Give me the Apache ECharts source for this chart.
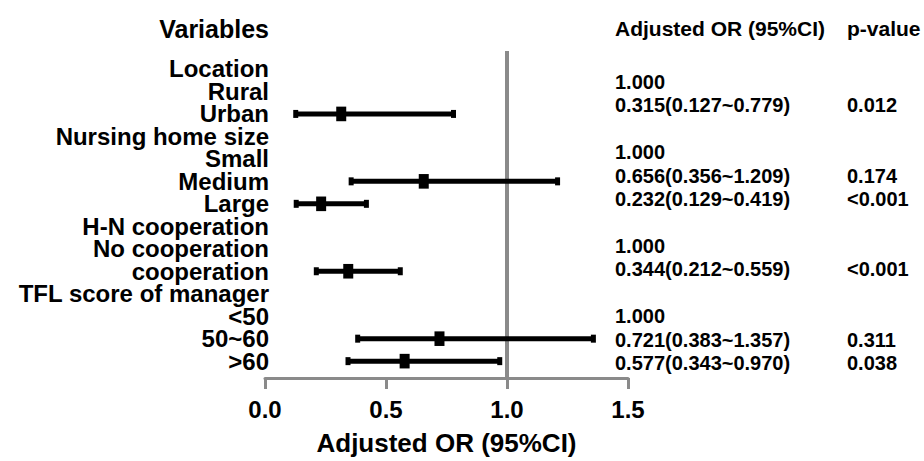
<!DOCTYPE html>
<html>
<head>
<meta charset="utf-8">
<script src="https://cdn.jsdelivr.net/npm/echarts@6/dist/echarts.min.js"></script>
<style>html,body{margin:0;padding:0;background:#fff;}#c{width:924px;height:461px;}</style>
</head>
<body>
<div id="c"></div>
<script>
// ---- data ----
var rowLabels = ['Location','Rural','Urban','Nursing home size','Small','Medium','Large',
  'H-N cooperation','No cooperation','cooperation','TFL score of manager','<50','50~60','>60'];
var orText = ['', '1.000', '0.315(0.127~0.779)', '', '1.000', '0.656(0.356~1.209)', '0.232(0.129~0.419)',
  '', '1.000', '0.344(0.212~0.559)', '', '1.000', '0.721(0.383~1.357)', '0.577(0.343~0.970)'];
var pText = ['', '', '0.012', '', '', '0.174', '<0.001', '', '', '<0.001', '', '', '0.311', '0.038'];
var estRows = [2, 5, 6, 9, 12, 13];
var orVals = [0.315, 0.656, 0.232, 0.344, 0.721, 0.577];
var loVals = [0.127, 0.356, 0.129, 0.212, 0.383, 0.343];
var hiVals = [0.779, 1.209, 0.419, 0.559, 1.357, 0.970];
var xTicks = [0, 0.5, 1.0, 1.5];
var refValue = 1.0;
var headers = {variables: 'Variables', or: 'Adjusted OR (95%CI)', p: 'p-value'};
var xAxisName = 'Adjusted OR (95%CI)';

// ---- build ----
var FONT = '"Liberation Sans", Arial, Helvetica, sans-serif';
var GRAY = '#8a8a8a';
var Y_MIN = -0.8, Y_MAX = 13.75;
var chart = echarts.init(document.getElementById('c'), null, {renderer: 'svg'});

var labelData = rowLabels.map(function (t, i) { return [0, i]; });
var estData = estRows.map(function (r, i) { return [orVals[i], r, loVals[i], hiVals[i]]; });
var orData = [], pData = [];
orText.forEach(function (t, i) { if (t) orData.push([0, i]); });
pText.forEach(function (t, i) { if (t) pData.push([1, i]); });

function textLabel(arr, pos, size, lh, offset) {
  return {show: true, position: pos, distance: 0, offset: offset || [0, 0], color: '#000', opacity: 1,
    fontFamily: FONT, fontWeight: 'bold', fontSize: size, lineHeight: lh,
    formatter: function (p) { return arr[p.data[1]]; }};
}

var option = {
  animation: false,
  grid: [
    {left: 265, width: 363, top: 51, height: 340},
    {left: 615, width: 232, top: 58.6, height: 304.4}
  ],
  xAxis: [
    {
      gridIndex: 0, type: 'value', position: 'bottom',
      min: xTicks[0], max: xTicks[xTicks.length - 1], interval: 0.5,
      axisLine: {show: true, onZero: false, lineStyle: {color: GRAY, width: 3}},
      axisTick: {show: true, length: 11, lineStyle: {color: GRAY, width: 3}},
      splitLine: {show: false},
      axisLabel: {color: '#000', fontFamily: FONT, fontWeight: 'bold', fontSize: 24, margin: 19,
        formatter: function (v) { return v.toFixed(1); }},
      name: xAxisName, nameLocation: 'middle', nameGap: 52,
      nameTextStyle: {color: '#000', fontFamily: FONT, fontWeight: 'bold', fontSize: 26}
    },
    {gridIndex: 1, type: 'value', min: 0, max: 1, show: false}
  ],
  yAxis: [
    {gridIndex: 0, type: 'value', inverse: true, min: Y_MIN, max: Y_MAX, show: false},
    {gridIndex: 1, type: 'value', inverse: true, min: 0, max: 13, show: false}
  ],
  graphic: [
    {type: 'text', style: {text: headers.variables, x: 269, y: 29, align: 'right', verticalAlign: 'middle',
      textAlign: 'right', textVerticalAlign: 'middle', fill: '#000', font: 'bold 25px ' + FONT}},
    {type: 'text', style: {text: headers.or, x: 615, y: 28, align: 'left', verticalAlign: 'middle',
      textAlign: 'left', textVerticalAlign: 'middle', fill: '#000', font: 'bold 21px ' + FONT}},
    {type: 'text', style: {text: headers.p, x: 847, y: 28, align: 'left', verticalAlign: 'middle',
      textAlign: 'left', textVerticalAlign: 'middle', fill: '#000', font: 'bold 21px ' + FONT}}
  ],
  series: [
    {
      type: 'scatter', xAxisIndex: 0, yAxisIndex: 0, data: labelData, symbolSize: 0,
      itemStyle: {color: '#000'}, silent: true, clip: false,
      label: textLabel(rowLabels, 'left', 24, 21, [4, 0]),
      markLine: {silent: true, symbol: 'none', label: {show: false},
        lineStyle: {color: GRAY, width: 4, type: 'solid'},
        data: [{xAxis: refValue}]}
    },
    {
      type: 'custom', xAxisIndex: 0, yAxisIndex: 0, data: estData, silent: true, z: 5,
      renderItem: function (params, api) {
        var c = api.coord([api.value(0), api.value(1)]);
        var lo = api.coord([api.value(2), api.value(1)]);
        var hi = api.coord([api.value(3), api.value(1)]);
        return {type: 'group', children: [
          {type: 'line', shape: {x1: lo[0], y1: lo[1], x2: hi[0], y2: hi[1]},
            style: {stroke: '#000', lineWidth: 5}},
          {type: 'rect', shape: {x: lo[0] - 2.5, y: lo[1] - 4, width: 5, height: 8}, style: {fill: '#000'}},
          {type: 'rect', shape: {x: hi[0] - 2.5, y: hi[1] - 4, width: 5, height: 8}, style: {fill: '#000'}},
          {type: 'rect', shape: {x: c[0] - 5, y: c[1] - 7.3, width: 10, height: 14.6}, style: {fill: '#000'}}
        ]};
      }
    },
    {
      type: 'scatter', xAxisIndex: 1, yAxisIndex: 1, data: orData, symbolSize: 0,
      itemStyle: {color: '#000'}, silent: true, clip: false,
      label: textLabel(orText, 'right', 20, 20)
    },
    {
      type: 'scatter', xAxisIndex: 1, yAxisIndex: 1, data: pData, symbolSize: 0,
      itemStyle: {color: '#000'}, silent: true, clip: false,
      label: textLabel(pText, 'right', 20, 20)
    }
  ]
};
chart.setOption(option);
</script>
</body>
</html>
